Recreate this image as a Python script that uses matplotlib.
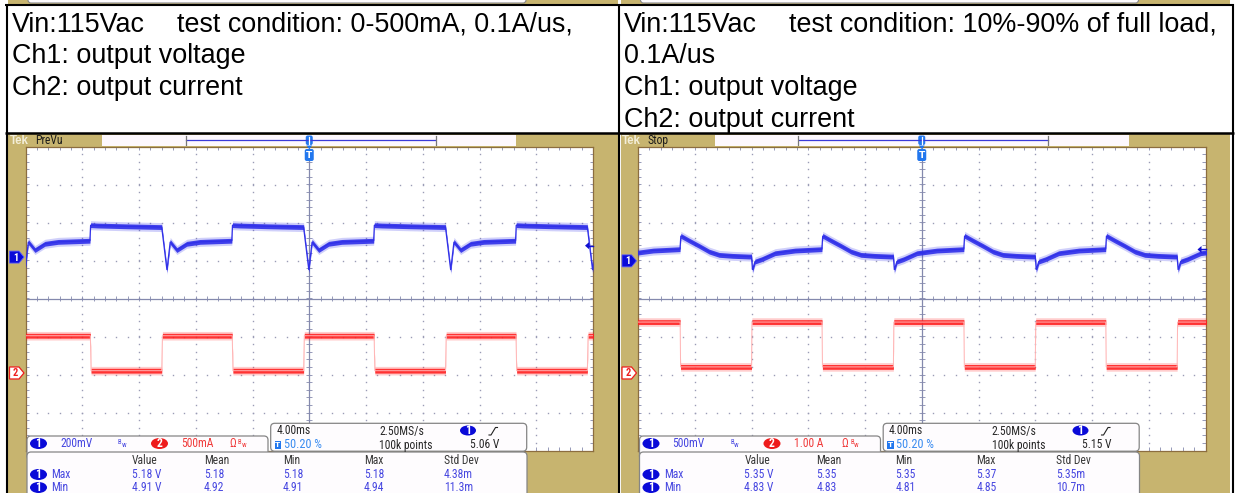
import numpy as np
import matplotlib
matplotlib.use("Agg")
import matplotlib.pyplot as plt
from matplotlib.patches import FancyBboxPatch, Rectangle, Polygon, Ellipse
from matplotlib.collections import LineCollection
from matplotlib import font_manager as fm

W, H = 1235, 493

# ---------------- text cells ----------------
left_line1 = ("Vin:115Vac", "test condition: 0-500mA, 0.1A/us,")
left_lines = ["Ch1: output voltage", "Ch2: output current"]
right_line1 = ("Vin:115Vac", "test condition: 10%-90% of full load,")
right_lines = ["0.1A/us", "Ch1: output voltage", "Ch2: output current"]

# ---------------- scope settings ----------------
time_div_ms = 4.0
meas_cols = ["Value", "Mean", "Min", "Max", "Std Dev"]

L_status = "PreVu"
L_ch1_label, L_ch1_scale, L_ch1_pos, L_ch1_offset = "200mV", 0.2, 1.09, 5.0
L_ch2_label, L_ch2_scale, L_ch2_pos = "500mA", 0.5, -1.96
L_trig_level = 5.06
L_timebase = ["4.00ms", "2.50MS/s", "50.20 %", "100k points", "5.06 V"]
L_meas_max = ["5.18 V", "5.18", "5.18", "5.18", "4.38m"]
L_meas_min = ["4.91 V", "4.92", "4.91", "4.94", "11.3m"]

R_status = "Stop"
R_ch1_label, R_ch1_scale, R_ch1_pos, R_ch1_offset = "500mV", 0.5, 0.99, 5.0
R_ch2_label, R_ch2_scale, R_ch2_pos = "1.00 A", 1.0, -1.96
R_trig_level = 5.15
R_timebase = ["4.00ms", "2.50MS/s", "50.20 %", "100k points", "5.15 V"]
R_meas_max = ["5.35 V", "5.35", "5.35", "5.37", "5.35m"]
R_meas_min = ["4.83 V", "4.83", "4.81", "4.85", "10.7m"]

# ---------------- waveforms (one period, relative to each load-step-up edge) ----------------
L_edges_ms = [-0.4, 9.6, 19.6, 29.6, 39.6]
L_ch1_dt = [0.00, 0.37, 0.60, 1.07, 1.77, 2.70, 4.94, 4.99, 5.50, 7.50, 9.97]
L_ch1_v = [5.158, 4.932, 5.080, 5.037, 5.070, 5.080, 5.086, 5.168, 5.166, 5.162, 5.158]
L_ch2_dt = [0.00, 0.05, 4.97, 5.02, 9.97]
L_ch2_a = [0.03, 0.49, 0.49, 0.03, 0.03]

R_edges_ms = [-2.0, 8.0, 18.0, 28.0, 38.0]
R_ch1_dt = [0.00, 0.07, 0.25, 0.72, 1.66, 3.07, 4.96, 5.02, 5.61, 6.31, 7.02, 7.72, 8.66, 9.84, 9.98]
R_ch1_v = [5.058, 4.882, 4.991, 5.022, 5.101, 5.136, 5.154, 5.329, 5.267, 5.197, 5.122, 5.079, 5.066, 5.057, 5.058]
R_ch2_dt = [0.00, 0.03, 4.97, 5.00, 9.98]
R_ch2_a = [0.16, 1.34, 1.34, 0.16, 0.16]

# ---------------- styles ----------------
TAN = "#c7b46f"
GBORDER = "#8c6d3f"
DOT = "#9a9cb6"
AXC = "#8489ad"
BLUE_TR = "#2b2bea"
RED_TR = "#ff1e1e"
BLUE_TXT = "#4646e0"
RED_TXT = "#f03a3a"
BADGE_BLUE = "#0a0ad8"
BADGE_RED = "#ee1c1c"
T_BLUE = "#2277ee"
BOXEDGE = "#858585"
PX_DIV = 38.0


def pick_font(cands):
    for n in cands:
        try:
            fm.findfont(fm.FontProperties(family=n), fallback_to_default=False)
            return n
        except Exception:
            continue
    return None


narrow = pick_font(["Liberation Sans Narrow", "Roboto Condensed", "DejaVu Sans Condensed",
                    "Open Sans Condensed"])
if narrow:
    SF = dict(family=[narrow, "DejaVu Sans"])
    FS = 8.4
else:
    SF = dict(family=["DejaVu Sans"], stretch="condensed")
    FS = 7.3
MAINF = ["Liberation Sans", "DejaVu Sans"]

fig = plt.figure(figsize=(W / 100, H / 100), dpi=100)
bg = fig.add_axes([0, 0, 1, 1], zorder=0)
bg.set_xlim(0, W); bg.set_ylim(H, 0); bg.axis("off")
ov = fig.add_axes([0, 0, 1, 1], zorder=10)
ov.set_xlim(0, W); ov.set_ylim(H, 0); ov.axis("off")


def px_axes(x0, y0, x1, y1, z):
    return fig.add_axes([x0 / W, 1 - y1 / H, (x1 - x0) / W, (y1 - y0) / H], zorder=z)


def graticule(ax):
    ax.set_xlim(0, 10); ax.set_ylim(-4, 4)
    ax.set_xticks([]); ax.set_yticks([])
    ax.set_facecolor("white")
    for s in ax.spines.values():
        s.set_color(GBORDER); s.set_linewidth(0.9)
    my = np.arange(-4, 4.001, 0.2)
    mx = np.arange(0, 10.001, 0.2)
    xs, ys = [], []
    for gx in range(1, 10):
        if gx == 5:
            continue
        xs += [gx] * len(my); ys += list(my)
    for gy in range(-3, 4):
        if gy == 0:
            continue
        xs += list(mx); ys += [gy] * len(mx)
    ax.plot(xs, ys, ls="none", marker="s", ms=1.0, mew=0, color=DOT)
    ax.axhline(0, color=AXC, lw=0.9)
    ax.axvline(5, color=AXC, lw=0.9)
    segs = [((x, -0.07), (x, 0.07)) for x in mx] + [((4.95, y), (5.05, y)) for y in my]
    segs += [((x, 4), (x, 3.92)) for x in mx] + [((x, -4), (x, -3.92)) for x in mx]
    segs += [((0, y), (0.06, y)) for y in my] + [((10, y), (9.94, y)) for y in my]
    ax.add_collection(LineCollection(segs, colors=AXC, lw=0.6))


def chan_axes(rect, scale, pos, offset):
    ax = px_axes(*rect, z=3)
    ax.set_xlim(0, 10 * time_div_ms)
    ax.set_ylim(offset + (-4 - pos) * scale, offset + (4 - pos) * scale)
    ax.axis("off")
    return ax


def tile(edges, dt, val):
    t = np.concatenate([e + np.asarray(dt, float) for e in edges])
    v = np.tile(np.asarray(val, float), len(edges))
    return t, v


def trace(ax, t, v, scale, color, core, dense_px, fringe_px, core_lw):
    hd = dense_px * scale / PX_DIV
    hf = fringe_px * scale / PX_DIV
    ax.plot(t, v, color=core, lw=core_lw, solid_joinstyle="miter")
    ax.fill_between(t, v - hf, v + hf, color=color, alpha=0.22, lw=0)
    ax.fill_between(t, v - hd, v + hd, color=color, alpha=0.88, lw=0)


def badge(xc, yc, num, fc, w=17, h=11, fs=None):
    ov.add_patch(Ellipse((xc, yc), w, h, fc=fc, ec="none"))
    ov.text(xc, yc + 0.3, num, color="white", fontsize=fs or FS, fontweight="bold",
            ha="center", va="center", **SF)


def rbox(x0, y0, x1, y1, r=4, fc="#fefcfe", ec=BOXEDGE, z=1):
    ov.add_patch(FancyBboxPatch((x0, y0), x1 - x0, y1 - y0,
                                boxstyle=f"round,pad=0,rounding_size={r}",
                                fc=fc, ec=ec, lw=0.9, zorder=z))


def bw(x, y, col):
    ov.text(x, y - 1.5, "B", color=col, fontsize=4.8, ha="left", va="center", **SF)
    ov.text(x + 3.4, y + 1.8, "w", color=col, fontsize=5.0, ha="left", va="center", **SF)


panels = [
    dict(dx=0.0, status=L_status, c1=(L_ch1_label, L_ch1_scale, L_ch1_pos, L_ch1_offset),
         c2=(L_ch2_label, L_ch2_scale, L_ch2_pos), trig=L_trig_level, tb=L_timebase,
         mmax=L_meas_max, mmin=L_meas_min, edges=L_edges_ms,
         w1=(L_ch1_dt, L_ch1_v), w2=(L_ch2_dt, L_ch2_a)),
    dict(dx=612.5, status=R_status, c1=(R_ch1_label, R_ch1_scale, R_ch1_pos, R_ch1_offset),
         c2=(R_ch2_label, R_ch2_scale, R_ch2_pos), trig=R_trig_level, tb=R_timebase,
         mmax=R_meas_max, mmin=R_meas_min, edges=R_edges_ms,
         w1=(R_ch1_dt, R_ch1_v), w2=(R_ch2_dt, R_ch2_a)),
]

GX0, GX1, GY0, GY1 = 25.5, 593.0, 146.5, 450.5
GYC = (GY0 + GY1) / 2

for P in panels:
    dx = P["dx"]
    # tan scope frame and the strip at the very top
    bg.add_patch(Rectangle((8 + dx, 133), 609.5, 361, fc=TAN, ec="none"))
    bg.add_patch(Rectangle((8 + dx, 0), 609.5, 4.5, fc=TAN, ec="none"))
    ov.add_patch(FancyBboxPatch((28 + dx, -8), 498, 11, boxstyle="round,pad=0,rounding_size=3",
                                fc="#fdfbfd", ec=BOXEDGE, lw=0.8, zorder=1))

    # graticule
    gax = px_axes(GX0 + dx, GY0, GX1 + dx, GY1, z=2)
    graticule(gax)

    # traces
    lab1, s1, p1, o1 = P["c1"]
    lab2, s2, p2 = P["c2"]
    rect = (GX0 + dx, GY0, GX1 + dx, GY1)
    a2 = chan_axes(rect, s2, p2, 0.0)
    t2, v2 = tile(P["edges"], *P["w2"])
    trace(a2, t2, v2, s2, RED_TR, "#ffb4b4", 2.4, 4.3, 0.7)
    a1 = chan_axes(rect, s1, p1, o1)
    t1, v1 = tile(P["edges"], *P["w1"])
    trace(a1, t1, v1, s1, BLUE_TR, "#3030e8", 2.4, 4.5, 0.9)

    # top status strip
    ov.text(9.5 + dx, 141, "Tek", color="#f3eed8", fontsize=8.3, fontweight="bold",
            ha="left", va="center", family=MAINF)
    ov.text(35 + dx, 140.5, P["status"], color="#1a1a1a", fontsize=FS, ha="left", va="center", **SF)
    ov.add_patch(Rectangle((102 + dx, 134.8), 414, 11, fc="#fdf8fd", ec="none"))
    ov.plot([186 + dx, 435 + dx], [139.5, 139.5], color="#3a3ad8", lw=0.9)
    for bx in (185.5, 435.5):
        ov.plot([bx + dx, bx + dx], [136, 145], color="#777777", lw=0.9)
    cx = (GX0 + GX1) / 2 + dx
    ov.add_patch(FancyBboxPatch((cx - 3.5, 135.5), 7, 9.5, boxstyle="round,pad=0,rounding_size=2",
                                fc=T_BLUE, ec="none"))
    ov.plot([cx, cx], [137, 143.5], color="white", lw=0.9)
    ov.add_patch(Polygon([(cx - 3, 145.5), (cx + 3, 145.5), (cx, 149)], closed=True, fc=T_BLUE, ec="none"))
    ov.add_patch(FancyBboxPatch((cx - 4.5, 149), 9, 12, boxstyle="round,pad=0,rounding_size=2",
                                fc=T_BLUE, ec="none"))
    ov.text(cx, 155.5, "T", color="white", fontsize=6.5, fontweight="bold", ha="center", va="center",
            family=["DejaVu Sans"])

    # channel markers on the left edge
    y1m = GYC - p1 * PX_DIV
    y2m = GYC - p2 * PX_DIV
    ov.add_patch(Polygon([(9.5 + dx, y1m - 6), (19 + dx, y1m - 6), (24 + dx, y1m), (19 + dx, y1m + 6),
                          (9.5 + dx, y1m + 6)], closed=True, fc=BADGE_BLUE, ec="#5a5aff", lw=0.6))
    ov.text(15.5 + dx, y1m + 0.5, "1", color="white", fontsize=7.5, fontweight="bold",
            ha="center", va="center", **SF)
    ov.add_patch(Polygon([(9.5 + dx, y2m - 6), (19 + dx, y2m - 6), (24 + dx, y2m), (19 + dx, y2m + 6),
                          (9.5 + dx, y2m + 6)], closed=True, fc="white", ec=BADGE_RED, lw=0.9))
    ov.text(15.5 + dx, y2m + 0.5, "2", color=BADGE_RED, fontsize=7.5, fontweight="bold",
            ha="center", va="center", **SF)

    # trigger level arrow at the right edge
    yt = GYC - ((P["trig"] - o1) / s1 + p1) * PX_DIV
    ov.add_patch(Polygon([(GX1 + dx - 8, yt), (GX1 + dx - 4, yt - 3.5), (GX1 + dx - 4, yt + 3.5)],
                         closed=True, fc="#1010d0", ec="none"))
    ov.plot([GX1 + dx - 5, GX1 + dx], [yt, yt], color="#1010d0", lw=1.0)

    # channel readout box
    rbox(27 + dx, 436, 268 + dx, 460, r=4)
    yc = 443.5
    badge(38.5 + dx, yc, "1", BADGE_BLUE)
    ov.text(60 + dx, yc, lab1, color=BLUE_TXT, fontsize=FS, ha="left", va="center", **SF)
    bw(118 + dx, yc, BLUE_TXT)
    badge(159.5 + dx, yc, "2", BADGE_RED)
    ov.text(181 + dx, yc, lab2, color=RED_TXT, fontsize=FS, ha="left", va="center", **SF)
    ov.text(229 + dx, yc, "Ω", color=RED_TXT, fontsize=FS, ha="left", va="center", **SF)
    bw(238 + dx, yc, RED_TXT)

    # timebase box
    tb = P["tb"]
    rbox(270.7 + dx, 423.3, 526.7 + dx, 451.2, r=4)
    ov.text(276.5 + dx, 431, tb[0], color="#262626", fontsize=FS, ha="left", va="center", **SF)
    ov.text(379 + dx, 431, tb[1], color="#262626", fontsize=FS, ha="left", va="center", **SF)
    badge(468 + dx, 430.5, "1", BADGE_BLUE, w=16, h=10)
    ov.plot([489 + dx, 491 + dx, 495.5 + dx, 497.5 + dx], [435, 435, 427.5, 427.5], color="#222222", lw=0.8)
    ov.add_patch(Rectangle((274.5 + dx, 441), 6.5, 8, fc=T_BLUE, ec="none"))
    ov.text(277.75 + dx, 445.2, "T", color="white", fontsize=5.2, fontweight="bold",
            ha="center", va="center", family=["DejaVu Sans"])
    ov.text(284 + dx, 445, tb[2], color="#3a8cf0", fontsize=FS + 0.4, ha="left", va="center", **SF)
    ov.text(379 + dx, 445, tb[3], color="#262626", fontsize=FS, ha="left", va="center", **SF)
    ov.text(470 + dx, 445, tb[4], color="#262626", fontsize=FS, ha="left", va="center", **SF)

    # measurement box
    rbox(27 + dx, 452, 527 + dx, 515, r=4, z=2)
    col_x = [132, 204, 283, 364, 444]
    for cxx, name in zip(col_x, meas_cols):
        ov.text(cxx + dx, 461, name, color="#383838", fontsize=FS, ha="left", va="center", zorder=3, **SF)
    for ry, lab, vals in ((474.5, "Max", P["mmax"]), (487.5, "Min", P["mmin"])):
        ov.add_patch(Ellipse((38.5 + dx, ry), 17, 11, fc=BADGE_BLUE, ec="none", zorder=3))
        ov.text(38.5 + dx, ry + 0.3, "1", color="white", fontsize=FS, fontweight="bold",
                ha="center", va="center", zorder=4, **SF)
        ov.text(51.5 + dx, ry, lab, color=BLUE_TXT, fontsize=FS, ha="left", va="center", zorder=3, **SF)
        for cxx, val in zip(col_x, vals):
            ov.text(cxx + dx, ry, val, color=BLUE_TXT, fontsize=FS, ha="left", va="center", zorder=3, **SF)

# ---------------- header text ----------------
baselines = [31.5, 63.3, 95.0, 127.0]
TXS = 19.4
ov.text(12, baselines[0], left_line1[0], fontsize=TXS, family=MAINF, va="baseline", ha="left")
ov.text(177, baselines[0], left_line1[1], fontsize=TXS, family=MAINF, va="baseline", ha="left")
for i, s in enumerate(left_lines):
    ov.text(12, baselines[i + 1], s, fontsize=TXS, family=MAINF, va="baseline", ha="left")
ov.text(624, baselines[0], right_line1[0], fontsize=TXS, family=MAINF, va="baseline", ha="left")
ov.text(789, baselines[0], right_line1[1], fontsize=TXS, family=MAINF, va="baseline", ha="left")
for i, s in enumerate(right_lines):
    ov.text(624, baselines[i + 1], s, fontsize=TXS, family=MAINF, va="baseline", ha="left")

# ---------------- table borders ----------------
blw = 1.5
ov.plot([5, 1234], [4.5, 4.5], color="black", lw=blw, solid_capstyle="butt")
ov.plot([5, 1234], [132.8, 132.8], color="black", lw=1.8, solid_capstyle="butt")
for bx in (7.0, 619.0, 1232.5):
    ov.plot([bx, bx], [3.5, 494], color="black", lw=blw, solid_capstyle="butt")

fig.savefig("out.png", dpi=100)
